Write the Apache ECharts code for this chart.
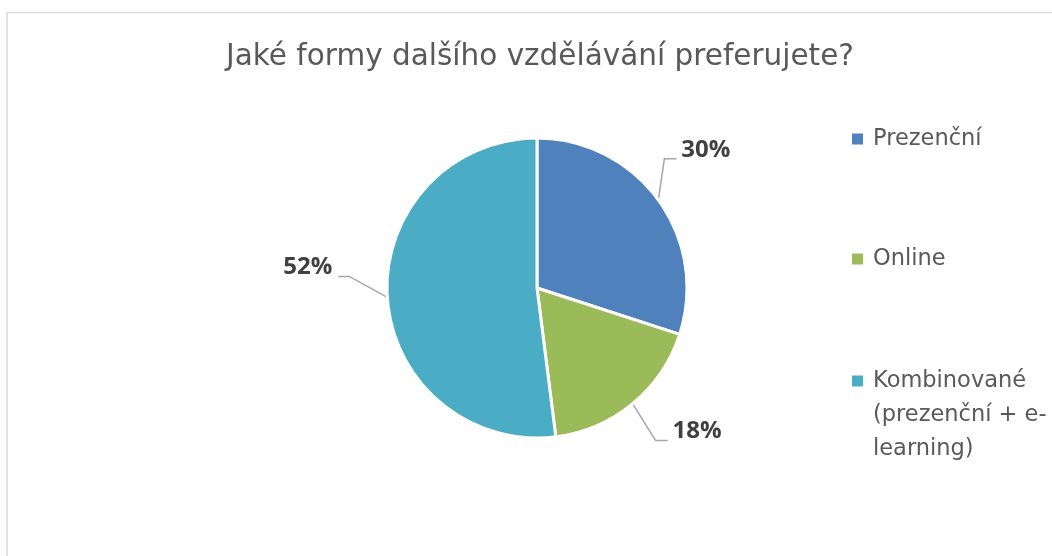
<!DOCTYPE html>
<html>
<head>
<meta charset="utf-8">
<title>Jaké formy dalšího vzdělávání preferujete?</title>
<script src="https://cdn.jsdelivr.net/npm/echarts@6/dist/echarts.min.js"></script>
<style>
    html, body { margin: 0; padding: 0; background: #ffffff; }
    #main { width: 1052px; height: 556px; }
</style>
</head>
<body>
<div id="main"></div>
<script>
// chart data
var categories = ['Prezenční', 'Online', 'Kombinované (prezenční + e-learning)'];
var shares = [30, 18, 52];
var colors = ['#4f81bd', '#9bbb59', '#4bacc6'];

// legend texts as shown next to the pie
var legendLines = {
    'Prezenční': 'Prezenční',
    'Online': 'Online',
    // two empty lines on top keep the marker level with the first line
    'Kombinované (prezenční + e-learning)': '\n\nKombinované\n(prezenční + e-\nlearning)'
};

// hand placed data labels (like in Excel): bend of the leader line relative
// to the slice edge, then the short horizontal piece
var leaderBend = [[6, -41], [23, 37], [-38, -21]];
var leaderTail = [12, 12, -11];

function displayChart() {
    var chartDom = document.getElementById('main');
    var myChart = echarts.init(chartDom);

    var legendTops = [122, 242, 296];
    var legends = categories.map(function (name, i) {
        return {
            orient: 'vertical',
            left: 852,
            top: legendTops[i],
            padding: 0,
            itemWidth: 11,
            itemHeight: 11,
            icon: 'rect',
            itemStyle: { borderWidth: 0 },
            data: [name],
            formatter: function (n) { return legendLines[n]; },
            textStyle: {
                fontFamily: 'DejaVu Sans',
                fontSize: 22.5,
                color: '#595959',
                lineHeight: 34,
                padding: [0, 0, 0, 5]
            }
        };
    });

    var option = {
        color: colors,
        animation: false,
        title: {
            text: 'Jaké formy dalšího vzdělávání preferujete?',
            left: 535,
            textAlign: 'center',
            top: 37,
            textStyle: {
                fontFamily: 'DejaVu Sans',
                fontSize: 29.5,
                fontWeight: 'normal',
                color: '#595959'
            }
        },
        graphic: [{
            type: 'rect',
            shape: { x: 7, y: 12.5, width: 1100, height: 600 },
            style: { fill: 'none', stroke: '#d9d9d9', lineWidth: 1.5 },
            silent: true
        }],
        legend: legends,
        series: [{
            type: 'pie',
            center: [537, 288],
            radius: 150,
            startAngle: 90,
            clockwise: true,
            itemStyle: { borderColor: '#ffffff', borderWidth: 3 },
            label: {
                show: true,
                formatter: '{c}%',
                fontFamily: 'Open Sans',
                fontWeight: 'bold',
                fontSize: 24,
                color: '#404040'
            },
            labelLine: {
                show: true,
                length: 38,
                length2: 12,
                lineStyle: { color: '#a6a6a6', width: 1.5 }
            },
            labelLayout: function (params) {
                var pts = params.labelLinePoints;
                if (!pts) {
                    return {};
                }
                var i = params.dataIndex;
                var edge = pts[0];
                var bend = [edge[0] + leaderBend[i][0], edge[1] + leaderBend[i][1]];
                var end = [bend[0] + leaderTail[i], bend[1]];
                var right = leaderTail[i] > 0;
                return {
                    x: end[0] + (right ? 5 : -6),
                    y: end[1] - 9,
                    align: right ? 'left' : 'right',
                    verticalAlign: 'middle',
                    labelLinePoints: [edge, bend, end]
                };
            },
            data: categories.map(function (name, i) {
                return { name: name, value: shares[i] };
            })
        }]
    };
    myChart.setOption(option);
}
displayChart();
</script>
</body>
</html>
